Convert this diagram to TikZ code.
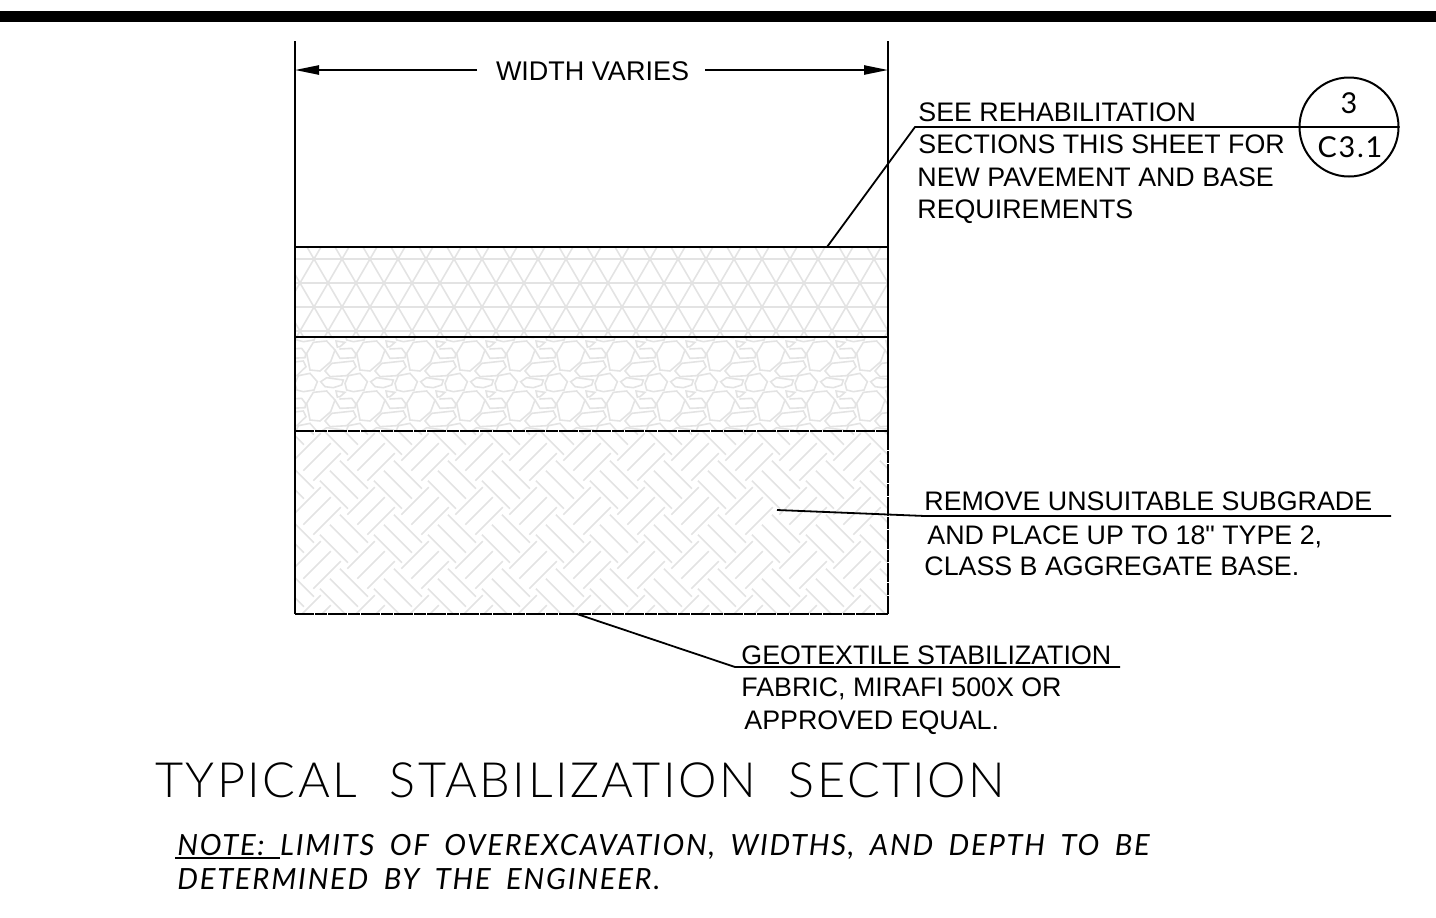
\documentclass[tikz,border=0pt]{standalone}
\usepackage{fontspec}
\usetikzlibrary{arrows.meta}
\newfontfamily\calloutfont{Liberation Sans}
\newfontfamily\titlefont[LetterSpace=5,WordSpace=2.1]{Lato Light}
\newfontfamily\notefont[LetterSpace=6,WordSpace=1.8]{Lato Italic}
\newfontfamily\bubblefont[LetterSpace=6]{Lato}
\definecolor{hatchgray}{HTML}{E3E3E3}
\tikzset{>={Triangle[length=12pt,width=4.6pt]}}
\tikzset{
    callout/.style={anchor=base west, inner sep=0pt, font=\calloutfont\fontsize{13.4}{16}\selectfont},
    leader/.style={line width=0.9pt},
    hatch/.style={hatchgray, line width=0.8pt},
    heavy/.style={line width=1.3pt},
    broken/.style={line width=1.3pt, dash pattern=on 9.3pt off 0.7pt on 5.8pt off 0.7pt},
    notetext/.style={anchor=base west, inner sep=0pt, font=\notefont\fontsize{14.6}{18}\selectfont},
}

\begin{document}
\begin{tikzpicture}[x=0.5pt, y=-0.5pt]
    \useasboundingbox (0,0) rectangle (1436,917);
    \fill[black] (0,11) rectangle (1436,22);

    % triangles
    \begin{scope}
        \clip (295,247) rectangle (888,337);
        \foreach \ty in {259,283,307,331}
            \draw[hatch] (295,\ty) -- (888,\ty);
        \foreach \tx in {-7,...,28} {
            \draw[hatch] ({286+28*\tx},211) -- ++(112,192);
            \draw[hatch] ({370+28*\tx},211) -- ++(-112,192);
        }
    \end{scope}

    % stones
    \begin{scope}
        \clip (295,337) rectangle (888,431);
        \foreach \sx in {-1,...,12}
        \foreach \sy in {-1,0,1,2} {
            \begin{scope}[shift={({290+50*\sx},{335+50*\sy})}, x=0.1667pt, y=-0.1667pt]
                \draw[hatch] (50,55) -- (70,22) -- (110,18) -- (135,45) -- (122,80) -- (90,108) -- (60,105) -- cycle;
                \draw[hatch] (138,18) -- (165,22) -- (150,35) -- (142,36) -- cycle;
                \draw[hatch] (148,42) -- (185,40) -- (197,56) -- (195,68) -- (150,70) -- (135,45);
                \draw[hatch] (105,108) -- (125,85) -- (190,78) -- (198,95) -- (170,122) -- (120,125) -- cycle;
                \draw[hatch] (165,145) -- (175,122) -- (210,115) -- (232,140) -- (222,165) -- (190,170) -- (170,165) -- cycle;
                \draw[hatch] (92,140) -- (110,128) -- (160,135) -- (155,150) -- (130,158) -- (105,155) -- cycle;
            \end{scope}
        }
    \end{scope}

    % basket weave
    \begin{scope}
        \clip (295,431) rectangle (888,614);
        \foreach \bx in {-1,...,11}
        \foreach \by in {-1,...,3}
        \foreach \bn in {0,1,2} {
            \draw[hatch] ({293.3+54*\bx+10*\bn},{460.7+54*\by+10*\bn}) -- ++(27.5,-27.5);
            \draw[hatch] ({320+54*\bx+10*\bn},{480.7+54*\by-10*\bn}) -- ++(28,28);
        }
    \end{scope}

    \draw[heavy] (295,41) -- (295,614);
    \draw[heavy] (888,41) -- (888,431);
    \draw[broken] (888,431) -- (888,614);
    \draw[leader] (295,247) -- (888,247);
    \draw[heavy] (295,337) -- (888,337);
    \draw[broken] (295,431) -- (888,431);
    \draw[broken] (295,614) -- (888,614);

    \node[inner sep=0pt, anchor=base, font=\calloutfont\fontsize{13.5}{16}\selectfont] (widthlabel) at (592.5,80) {WIDTH VARIES};
    \coordinate (limleft) at (295,70);
    \coordinate (limright) at (888,70);
    \coordinate (widthstart) at (477,70);
    \coordinate (widthend) at (705,70);
    \draw[->, leader] (widthstart) -- (limleft);
    \draw[->, leader] (widthend) -- (limright);

    \node[callout] (rehabone) at (918,121) {SEE REHABILITATION};
    \node[callout] (rehabtwo) at (918,153) {SECTIONS THIS SHEET FOR};
    \node[callout] (rehabthree) at (917,186) {NEW PAVEMENT AND BASE};
    \node[callout] (rehabfour) at (917,218) {REQUIREMENTS};

    \node[callout] (subgradeone) at (924,510) {REMOVE UNSUITABLE SUBGRADE};
    \node[callout] (subgradetwo) at (927,544) {AND PLACE UP TO 18" TYPE 2,};
    \node[callout] (subgradethree) at (924,575) {CLASS B AGGREGATE BASE.};

    \node[callout] (geoone) at (741,664) {GEOTEXTILE STABILIZATION};
    \node[callout] (geotwo) at (741,696) {FABRIC, MIRAFI 500X OR};
    \node[callout] (geothree) at (744,729) {APPROVED EQUAL.};

    \node[circle, draw, line width=1pt, minimum size=49.5pt, inner sep=0pt] (bubble) at (1349,127) {};
    \node[inner sep=0pt, anchor=base, font=\bubblefont\fontsize{14.4}{18}\selectfont] (bubbletop) at (1349,113) {3};
    \node[inner sep=0pt, anchor=base, font=\bubblefont\fontsize{14.4}{18}\selectfont] (bubblebottom) at (1350,157) {C3.1};

    \coordinate (rehabtip) at (827,247);
    \coordinate (rehabknee) at (915,127);
    \draw[leader] (rehabtip) -- (rehabknee) -- (bubble.east);
    \coordinate (subgradetip) at (777,510);
    \coordinate (subgradeknee) at (925,516);
    \coordinate (subgradeend) at (1391,516);
    \draw[leader] (subgradetip) -- (subgradeknee) -- (subgradeend);
    \coordinate (geotip) at (577,614);
    \coordinate (geoknee) at (735,667);
    \coordinate (geoend) at (1120,667);
    \draw[leader] (geotip) -- (geoknee) -- (geoend);

    \node[anchor=base west, inner sep=0pt, font=\titlefont\fontsize{24.3}{30}\selectfont] (title) at (155,797) {TYPICAL STABILIZATION SECTION};
    \node[notetext] (noteone) at (177,855) {NOTE: LIMITS OF OVEREXCAVATION, WIDTHS, AND DEPTH TO BE};
    \node[notetext] (notetwo) at (177,889) {DETERMINED BY THE ENGINEER.};
    \coordinate (ruleleft) at (175,858);
    \coordinate (ruleright) at (280,858);
    \draw[leader] (ruleleft) -- (ruleright);
\end{tikzpicture}
\end{document}
